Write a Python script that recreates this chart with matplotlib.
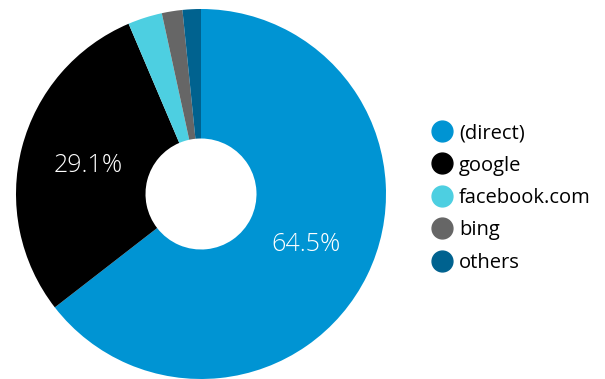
import matplotlib
matplotlib.use('Agg')
import matplotlib.pyplot as plt
import numpy as np
from matplotlib.lines import Line2D

# Fontes de tráfego (percentual de sessões)
sources = ['(direct)', 'google', 'facebook.com', 'bing', 'others']
shares = [64.5, 29.1, 3.0, 1.8, 1.6]
colors = ['#0094d3', '#000000', '#4dcfe1', '#666666', '#00628f']
show_pct = [True, True, False, False, False]

plt.rcParams['font.family'] = ['Open Sans', 'DejaVu Sans']

fig = plt.figure(figsize=(6.05, 3.79), dpi=100)
ax = fig.add_axes([16/605, 0, 370/605, 370/379])

wedges, _ = ax.pie(shares, colors=colors, startangle=90, counterclock=False,
                   radius=1, wedgeprops=dict(width=0.7, linewidth=0))
ax.set_xlim(-1, 1)
ax.set_ylim(-1, 1)
ax.set_aspect('equal')
ax.axis('off')

# rótulos percentuais só nas fatias grandes
for w, val, show in zip(wedges, shares, show_pct):
    if not show:
        continue
    ang = np.deg2rad((w.theta1 + w.theta2) / 2)
    ax.text(0.63*np.cos(ang), 0.62*np.sin(ang), f'{val}%', color='white',
            fontsize=18, fontweight='light', ha='center', va='center')

handles = [Line2D([], [], marker='o', linestyle='none', markersize=15,
                  markerfacecolor=c, markeredgecolor=c) for c in colors]
fig.legend(handles, sources, loc='center left', bbox_to_anchor=(424/605, 1-198/379),
           frameon=False, fontsize=14.5, handletextpad=0.35, labelspacing=0.62,
           borderaxespad=0, handlelength=1.0)

fig.savefig('out.png', dpi=100)
